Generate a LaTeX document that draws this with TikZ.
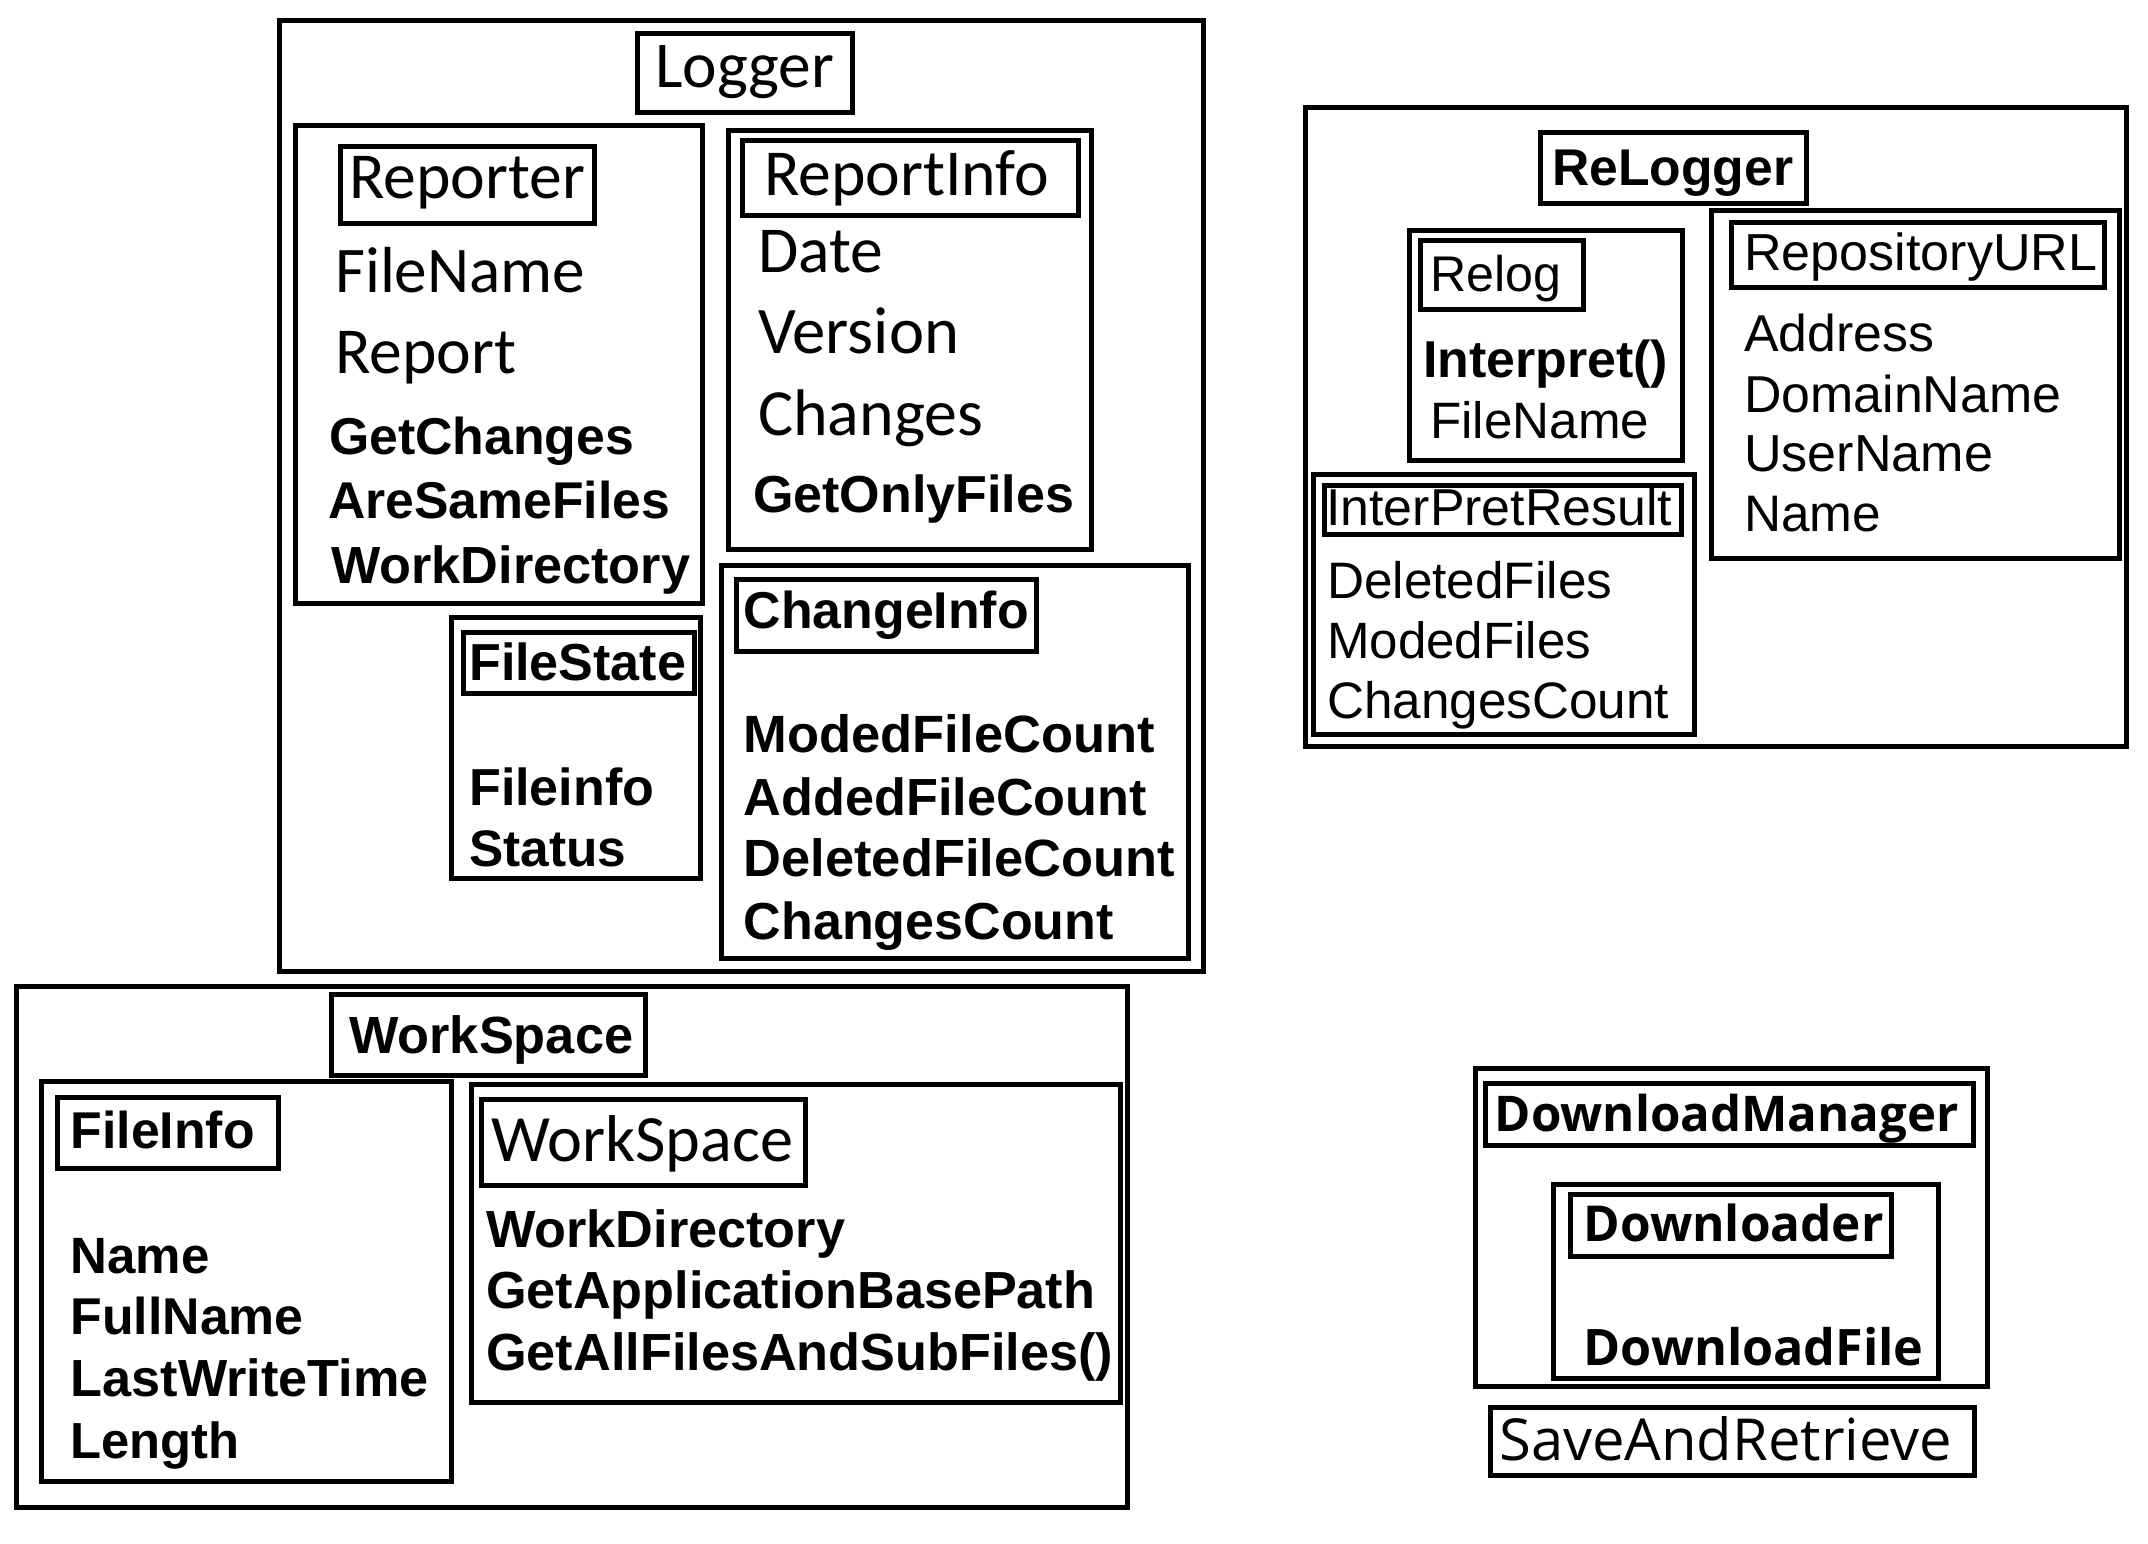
\documentclass[tikz,border=0pt]{standalone}
\usepackage{fontspec}
\usepackage{graphicx}
\setmainfont{Carlito}
\newfontfamily\carl{Carlito}
\newfontfamily\arial{Liberation Sans}
\newfontfamily\osans{Open Sans}
\newcommand\T[2]{\resizebox{#1pt}{!}{#2}}
\tikzset{
  box/.style={draw=black, line width=5pt},
  lbl/.style={anchor=base west, inner sep=0pt},
  cr/.style={lbl, font=\carl\fontsize{60}{70}\selectfont},
  ar/.style={lbl, font=\arial\fontsize{50}{60}\selectfont},
  ab/.style={lbl, font=\arial\bfseries\fontsize{50}{60}\selectfont},
  ob/.style={lbl, font=\osans\bfseries\fontsize{50}{60}\selectfont},
  orr/.style={lbl, font=\osans\fontsize{50}{60}\selectfont},
}
\begin{document}
\begin{tikzpicture}[x=1pt,y=-1pt]
\fill[white] (0,0) rectangle (2148,1544);
\useasboundingbox (0,0) rectangle (2148,1544);

% ---------------- Logger ----------------
\draw[box] (279,21) rectangle (1203,971);
\draw[box] (637,34) rectangle (852,113);
\node[cr] (logger) at (655,88) {\T{179}{Logger}};

\draw[box] (295,126) rectangle (702,603);
\draw[box] (340,147) rectangle (594,223);
\node[cr] (reporter) at (349,198) {\T{236}{Reporter}};
\node[cr] (rfilename) at (335,292.6) {\T{250}{FileName}};
\node[cr] (report) at (335,373.7) {\T{181}{Report}};
\node[ab] (getchanges) at (329,454.7) {\T{305}{GetChanges}};
\node[ab] (aresame) at (328,518) {\T{342}{AreSameFiles}};
\node[ab] (workdir1) at (331,583) {\T{359}{WorkDirectory}};

\draw[box] (728,130.5) rectangle (1091,549);
\draw[box] (742,141) rectangle (1078,215.5);
\node[cr] (reportinfo) at (764,195.7) {\T{285}{ReportInfo}};
\node[cr] (date) at (758,272) {\T{125}{Date}};
\node[cr] (version) at (758,353) {\T{201}{Version}};
\node[cr] (changes) at (758,435) {\T{225}{Changes}};
\node[ab] (getonly) at (753,512) {\T{321}{GetOnlyFiles}};

\draw[box] (721.5,565) rectangle (1188,958);
\draw[box] (736,579) rectangle (1036,651);
\node[ab] (changeinfo) at (743.6,628.3) {\T{285}{ChangeInfo}};
\node[ab] (moded) at (743.6,752.7) {\T{411}{ModedFileCount}};
\node[ab] (added) at (743.6,815) {\T{403}{AddedFileCount}};
\node[ab] (deleted) at (743.6,876.7) {\T{431}{DeletedFileCount}};
\node[ab] (chcount) at (743.6,939.3) {\T{370}{ChangesCount}};

\draw[box] (451,617) rectangle (700,878);
\draw[box] (463,632) rectangle (694,693);
\node[ab] (filestate) at (469,680) {\T{217}{FileState}};
\node[ab] (fileinfo1) at (469,805) {\T{185}{Fileinfo}};
\node[ab] (status) at (469,866) {\T{157}{Status}};

% ---------------- ReLogger ----------------
\draw[box] (1305,108) rectangle (2126,746);
\draw[box] (1540,133) rectangle (1806,203);
\node[ab] (relogger) at (1552,185) {\T{241}{ReLogger}};

\draw[box] (1409,230) rectangle (1682,460);
\draw[box] (1420,240) rectangle (1583,309);
\node[ar] (relog) at (1430,291) {\T{131}{Relog}};
\node[ab] (interpret) at (1423,377) {\T{245}{Interpret()}};
\node[ar] (rlfilename) at (1430,438) {\T{219}{FileName}};

\draw[box] (1711.5,210) rectangle (2119,558);
\draw[box] (1731,222) rectangle (2104,287);
\node[ar] (repourl) at (1744,270) {\T{353}{RepositoryURL}};
\node[ar] (address) at (1744,351.5) {\T{190}{Address}};
\node[ar] (domain) at (1744,412.6) {\T{317}{DomainName}};
\node[ar] (username) at (1744,471.6) {\T{249}{UserName}};
\node[ar] (rname) at (1744,531.5) {\T{137}{Name}};

\draw[box] (1313,474) rectangle (1694,734);
\draw[box] (1324,485) rectangle (1681,534);
\node[ar] (interres) at (1326,525) {\T{346}{InterPretResult}};
\node[ar] (delfiles) at (1327,598.5) {\T{285}{DeletedFiles}};
\node[ar] (modfiles) at (1327,658.4) {\T{264}{ModedFiles}};
\node[ar] (chcount2) at (1327,718.2) {\T{342}{ChangesCount}};

% ---------------- WorkSpace ----------------
\draw[box] (16,986) rectangle (1127,1507.5);
\draw[box] (331,994) rectangle (645,1075);
\node[ab] (wsbold) at (349,1053) {\T{284}{WorkSpace}};

\draw[box] (41.5,1081) rectangle (451,1481);
\draw[box] (57,1097) rectangle (278,1168);
\node[ab] (fileinfo2) at (70.5,1148.6) {\T{184}{FileInfo}};
\node[ab] (fname) at (70.5,1273) {\T{139}{Name}};
\node[ab] (fullname) at (70.5,1334.3) {\T{233}{FullName}};
\node[ab] (lastwrite) at (70.5,1396.8) {\T{358}{LastWriteTime}};
\node[ab] (length) at (70.5,1458.6) {\T{169}{Length}};

\draw[box] (471,1084) rectangle (1120,1402);
\draw[box] (481.5,1099) rectangle (805,1185);
\node[cr] (wsreg) at (491,1161) {\T{302}{WorkSpace}};
\node[ab] (workdir2) at (486,1247) {\T{359}{WorkDirectory}};
\node[ab] (getapp) at (486,1308.6) {\T{609}{GetApplicationBasePath}};
\node[ab] (getall) at (486,1370.7) {\T{627}{GetAllFilesAndSubFiles()}};

% ---------------- Download ----------------
\draw[box] (1475,1068) rectangle (1987,1386);
\draw[box] (1485,1083.5) rectangle (1973,1145);
\node[ob] (dlmanager) at (1494.5,1131) {\T{464}{DownloadManager}};

\draw[box] (1553,1184) rectangle (1938,1378.5);
\draw[box] (1570,1194) rectangle (1891,1256);
\node[ob] (downloader) at (1583.5,1241) {\T{300}{Downloader}};
\node[ob] (dlfile) at (1583.5,1365) {\T{340}{DownloadFile}};

\draw[box] (1490,1407) rectangle (1974,1475);
\node[orr] (saveret) at (1499,1460.7) {\T{453}{SaveAndRetrieve}};
\end{tikzpicture}
\end{document}
